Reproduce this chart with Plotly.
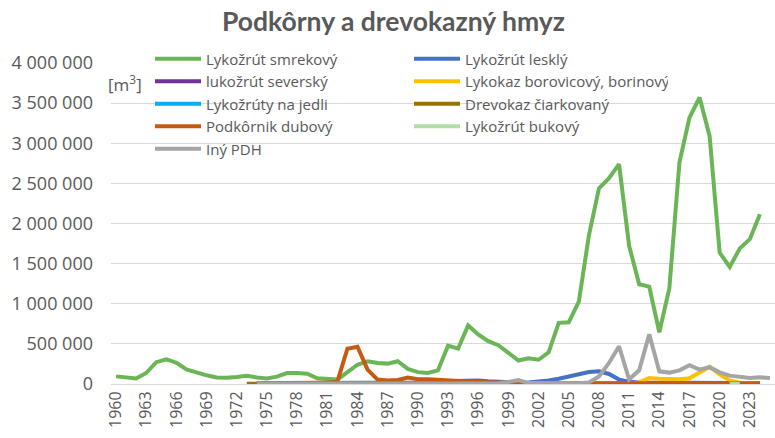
import plotly.graph_objects as go

years = list(range(1960, 2026))
N = None

smrekovy = [95000, 78000, 68000, 137000, 272000, 308000, 265000, 182000, 140000, 108000,
            82000, 77000, 88000, 103000, 82000, 68000, 92000, 137000, 137000, 128000,
            72000, 62000, 55000, 148000, 240000, 284000, 262000, 254000, 284000, 188000,
            148000, 138000, 170000, 478000, 440000, 730000, 618000, 533000, 483000, 388000,
            293000, 320000, 302000, 395000, 762000, 770000, 1025000, 1850000, 2437000, 2565000,
            2740000, 1722000, 1243000, 1213000, 645000, 1195000, 2760000, 3320000, 3570000, 3090000,
            1637000, 1458000, 1690000, 1805000, 2115000, N]

leskly = [N]*14 + [8000, 9000, 10000, 10000, 11000, 10000, 9000, 9000, 10000, 10000,
                   10000, 12000, 12000, 12000, 15000, 18000, 20000, 30000, 35000, 40000,
                   45000, 50000, 45000, 35000, 25000, 20000, 15000, 20000, 30000, 45000,
                   65000, 95000, 128000, 150000, 158000, 125000, 55000, 28000, 20000, 18000,
                   15000, 12000, 12000, 12000, 12000, 12000, 12000, 12000, 12000, 12000,
                   12000, N]

seversky = [N]*14 + [2000]*51 + [N]
jedli = [N]*14 + [3000]*51 + [N]

borovicovy = [N]*14 + [2000]*38 + [20000, 75000, 65000, 58000, 58000, 72000, 150000, 215000,
                                    120000, 45000, 15000, 8000, 5000, N]

ciarkovany = [N]*13 + [4000]*11 + [8000, 10000, 8000] + [4000]*38 + [N]

dubovy = [N]*14 + [10000, 12000, 15000, 20000, 20000, 20000, 15000, 15000, 30000, 440000,
                   465000, 180000, 55000, 45000, 50000, 80000, 60000, 60000, 50000, 40000,
                   40000, 30000, 25000, 20000, 18000, 15000, 15000, 12000, 10000, 10000,
                   10000, 8000, 8000, 8000, 6000, 6000, 6000, 5000, 5000, 5000,
                   5000, 5000, 5000, 5000, 5000, 5000, 5000, 5000, 5000, 5000,
                   5000, N]

bukovy = [N]*61 + [3000, 3000, N, N, N]

iny = [N]*14 + [5000, 5000, 5000, 5000, 5000, 5000, 5000, 5000, 5000, 5000,
                5000, 5000, 5000, 5000, 5000, 5000, 8000, 8000, 8000, 8000,
                8000, 8000, 8000, 8000, 10000, 25000, 50000, 12000, 10000, 10000,
                10000, 10000, 10000, 20000, 95000, 262000, 470000, 58000, 170000, 620000,
                158000, 142000, 170000, 235000, 179000, 210000, 146000, 104000, 95000, 75000,
                83000, 75000]

series = [
    ("Lykožrút smrekový", smrekovy, "#6AB556"),
    ("Lykožrút lesklý", leskly, "#4472C4"),
    ("lukožrút severský", seversky, "#7030A0"),
    ("Lykokaz borovicový, borinový", borovicovy, "#FFC000"),
    ("Lykožrúty na jedli", jedli, "#00B0F0"),
    ("Drevokaz čiarkovaný", ciarkovany, "#997300"),
    ("Podkôrnik dubový", dubovy, "#C55A11"),
    ("Lykožrút bukový", bukovy, "#B4DCA8"),
    ("Iný PDH", iny, "#A5A5A5"),
]

tick_years = list(range(1960, 2024, 3))
ytick_vals = [0, 500000, 1000000, 1500000, 2000000, 2500000, 3000000, 3500000, 4000000]
ytick_text = ["0", "500 000", "1 000 000", "1 500 000", "2 000 000", "2 500 000",
              "3 000 000", "3 500 000", "4 000 000"]

FONT = "Open Sans"
GRAY = "#595959"

L, T, B = 111, 63, 54
PW, PH = 775 - L, 438 - T - B

fig = go.Figure()
for name, vals, col in series:
    fig.add_trace(go.Scatter(x=years, y=vals, name=name, mode="lines",
                             line=dict(color=col, width=4), connectgaps=False))

fig.update_layout(
    width=775, height=438,
    margin=dict(l=L, r=0, t=T, b=B, autoexpand=False),
    paper_bgcolor="white", plot_bgcolor="white",
    font=dict(family=FONT, color=GRAY),
    title=dict(text="<b>Podkôrny a drevokazný hmyz</b>", xref="container",
               x=393.5 / 775, xanchor="center",
               y=1 - 22 / 438, yanchor="middle", yref="container",
               font=dict(size=26.5, color=GRAY, family="Lato")),
    showlegend=True,
    legend=dict(orientation="h", xref="paper", yref="paper",
                x=(150 - L) / PW, xanchor="left", y=(438 - B - 42.5) / PH, yanchor="top",
                entrywidth=198, entrywidthmode="pixels", itemwidth=46,
                font=dict(size=15, color=GRAY, family=FONT),
                bgcolor="rgba(0,0,0,0)", traceorder="normal"),
    xaxis=dict(range=[1959.5, 2025.5], tickmode="array", tickvals=tick_years,
               ticktext=[str(y) for y in tick_years], tickangle=-90,
               showgrid=False, showline=True, linecolor="#D9D9D9", linewidth=1,
               ticks="", tickfont=dict(size=16, color=GRAY), zeroline=False),
    yaxis=dict(range=[0, 4000000], tickmode="array", tickvals=ytick_vals,
               ticktext=ytick_text, showgrid=True, gridcolor="#D9D9D9", gridwidth=1,
               zeroline=False, showline=False, ticks="",
               ticklabelstandoff=17,
               tickfont=dict(size=18, color=GRAY)),
    annotations=[dict(text="[m<sup>3</sup>]", xref="paper", yref="paper",
                      x=(125 - L) / PW, y=(438 - B - 83) / PH,
                      xanchor="center", yanchor="middle", showarrow=False,
                      font=dict(size=17, color=GRAY, family=FONT))],
)

fig.write_html("out.html", config={"displayModeBar": False},
               post_script="document.body.style.margin='0';document.body.style.overflow='hidden';")
